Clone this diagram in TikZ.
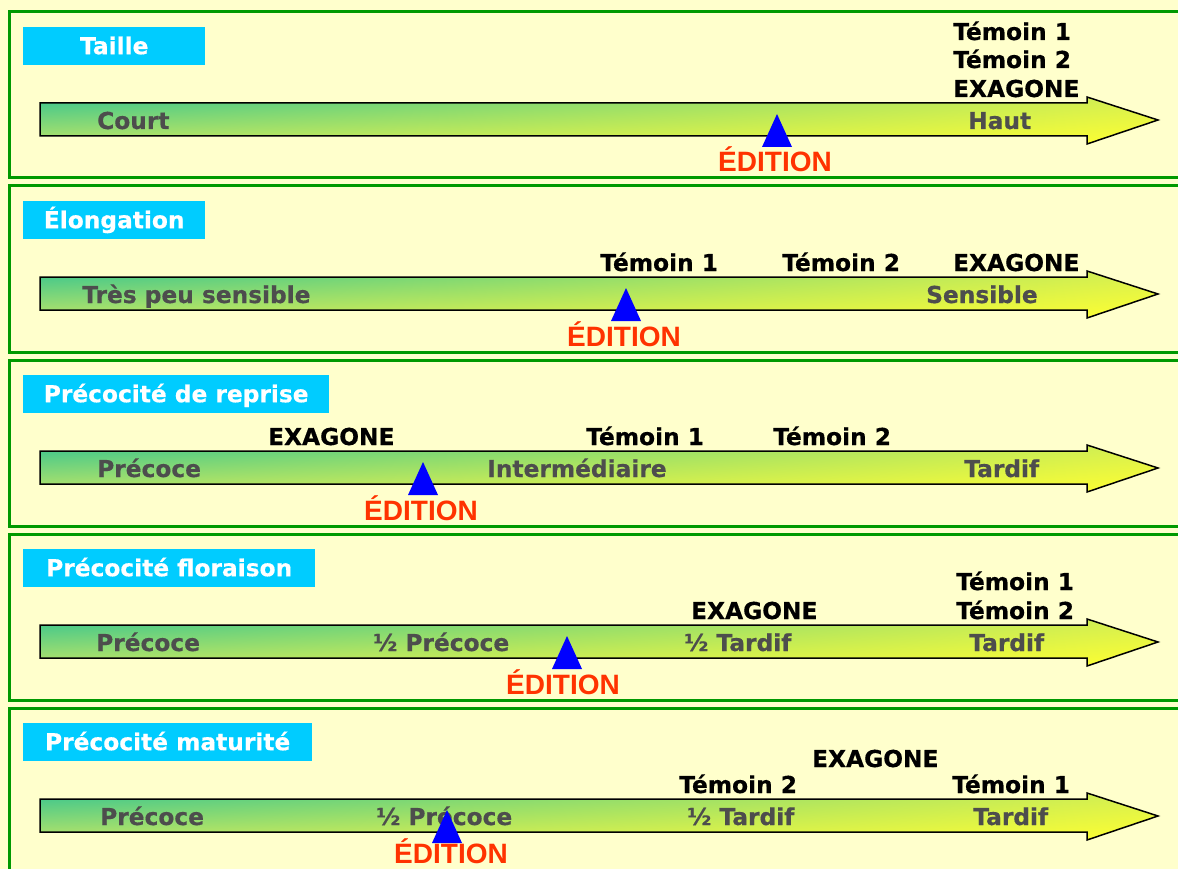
\documentclass[tikz,border=0pt]{standalone}
\usepackage{fontspec}
\usetikzlibrary{shadings}
\setmainfont{DejaVu Sans}[BoldFeatures={FakeBold=0.5}]
\newfontfamily\edfont{Liberation Sans}
\definecolor{bgyellow}{HTML}{FFFFCC}
\definecolor{panelgreen}{HTML}{009900}
\definecolor{cyanbox}{HTML}{00CCFF}
\definecolor{greytxt}{HTML}{4D4D4D}
\definecolor{edred}{HTML}{FF3300}
\definecolor{triblue}{HTML}{0000FF}
\definecolor{ulc}{HTML}{3CC68E}
\definecolor{llc}{HTML}{B8E468}
\definecolor{urc}{HTML}{D8F050}
\definecolor{lrc}{HTML}{FFFF30}
\begin{document}
\begin{tikzpicture}[x=1pt,y=-1pt,
  panelframe/.style={draw=panelgreen, line width=3pt},
  lbl/.style={fill=cyanbox, text=white, font=\fontsize{23.3}{28}\selectfont\bfseries,
    inner sep=0pt, minimum height=38pt, text height=19pt, text depth=3pt, anchor=north west},
  scaletxt/.style={text=greytxt, font=\fontsize{23.3}{28}\selectfont\bfseries, anchor=base west, inner sep=0pt},
  vartxt/.style={text=black, font=\fontsize{23.3}{28}\selectfont\bfseries, anchor=base west, inner sep=0pt},
  edtxt/.style={text=edred, font=\edfont\fontsize{28}{32}\selectfont\bfseries, anchor=base, inner sep=0pt},
  bigarrow/.style={draw=black, line width=1.5pt, upper left=ulc, lower left=llc, upper right=urc, lower right=lrc},
  tri/.style={fill=triblue}
]
\useasboundingbox (0,0) rectangle (1178,869);
\fill[bgyellow] (0,0) rectangle (1178,869);
\clip (0,0) rectangle (1178,869);

\foreach \k in {0,...,4}{
  \begin{scope}[shift={(0,174*\k)}]
    \draw[panelframe] (9.5,12) rectangle (1195,178);
    \shade[bigarrow] (40,103) -- (1087,103) -- (1087,97) -- (1158,120) -- (1087,144) -- (1087,136) -- (40,136) -- cycle;
  \end{scope}
}

% Panel 1
\begin{scope}
  \node[lbl, minimum width=182pt] (l1) at (23,27) {Taille};
  \node[scaletxt] (court) at (97,129) {Court};
  \node[scaletxt] (haut) at (968,129) {Haut};
  \node[vartxt] (t1a) at (953,40) {Témoin 1};
  \node[vartxt] (t2a) at (953,68) {Témoin 2};
  \node[vartxt] (exa) at (953,97) {EXAGONE};
  \fill[tri] (762,147) -- (777,114) -- (792,147) -- cycle;
  \node[edtxt] (eda) at (775,172) {ÉDITION};
\end{scope}

% Panel 2
\begin{scope}[shift={(0,174)}]
  \node[lbl, minimum width=182pt] (l2) at (23,27) {Élongation};
  \node[scaletxt] (tps) at (82,129) {Très peu sensible};
  \node[scaletxt] (sens) at (926,129) {Sensible};
  \node[vartxt] (t1b) at (600,97) {Témoin 1};
  \node[vartxt] (t2b) at (782,97) {Témoin 2};
  \node[vartxt] (exb) at (953,97) {EXAGONE};
  \fill[tri] (611,147) -- (626,114) -- (641,147) -- cycle;
  \node[edtxt] (edb) at (624,172) {ÉDITION};
\end{scope}

% Panel 3
\begin{scope}[shift={(0,348)}]
  \node[lbl, minimum width=306pt] (l3) at (23,27) {Précocité de reprise};
  \node[scaletxt] (prc) at (97,129) {Précoce};
  \node[scaletxt] (intc) at (487,129) {Intermédiaire};
  \node[scaletxt] (tarc) at (964,129) {Tardif};
  \node[vartxt] (exc) at (268,97) {EXAGONE};
  \node[vartxt] (t1c) at (586,97) {Témoin 1};
  \node[vartxt] (t2c) at (773,97) {Témoin 2};
  \fill[tri] (408,147) -- (423,114) -- (438,147) -- cycle;
  \node[edtxt] (edc) at (421,172) {ÉDITION};
\end{scope}

% Panel 4
\begin{scope}[shift={(0,522)}]
  \node[lbl, minimum width=292pt] (l4) at (23,27) {Précocité floraison};
  \node[scaletxt] (prd) at (96,129) {Précoce};
  \node[scaletxt] (hpd) at (373,129) {½ Précoce};
  \node[scaletxt] (htd) at (684,129) {½ Tardif};
  \node[scaletxt] (tard) at (969,129) {Tardif};
  \node[vartxt] (t1d) at (956,68) {Témoin 1};
  \node[vartxt] (t2d) at (956,97) {Témoin 2};
  \node[vartxt] (exd) at (691,97) {EXAGONE};
  \fill[tri] (552,147) -- (567,114) -- (582,147) -- cycle;
  \node[edtxt] (edd) at (563,172) {ÉDITION};
\end{scope}

% Panel 5
\begin{scope}[shift={(0,696)}]
  \node[lbl, minimum width=289pt] (l5) at (23,27) {Précocité maturité};
  \node[scaletxt] (pre) at (100,129) {Précoce};
  \node[scaletxt] (hpe) at (376,129) {½ Précoce};
  \node[scaletxt] (hte) at (687,129) {½ Tardif};
  \node[scaletxt] (tare) at (973,129) {Tardif};
  \node[vartxt] (exe) at (812,71) {EXAGONE};
  \node[vartxt] (t2e) at (679,97) {Témoin 2};
  \node[vartxt] (t1e) at (952,97) {Témoin 1};
  \fill[tri] (432,147) -- (447,114) -- (462,147) -- cycle;
  \node[edtxt] (ede) at (451,167) {ÉDITION};
\end{scope}
\end{tikzpicture}
\end{document}
